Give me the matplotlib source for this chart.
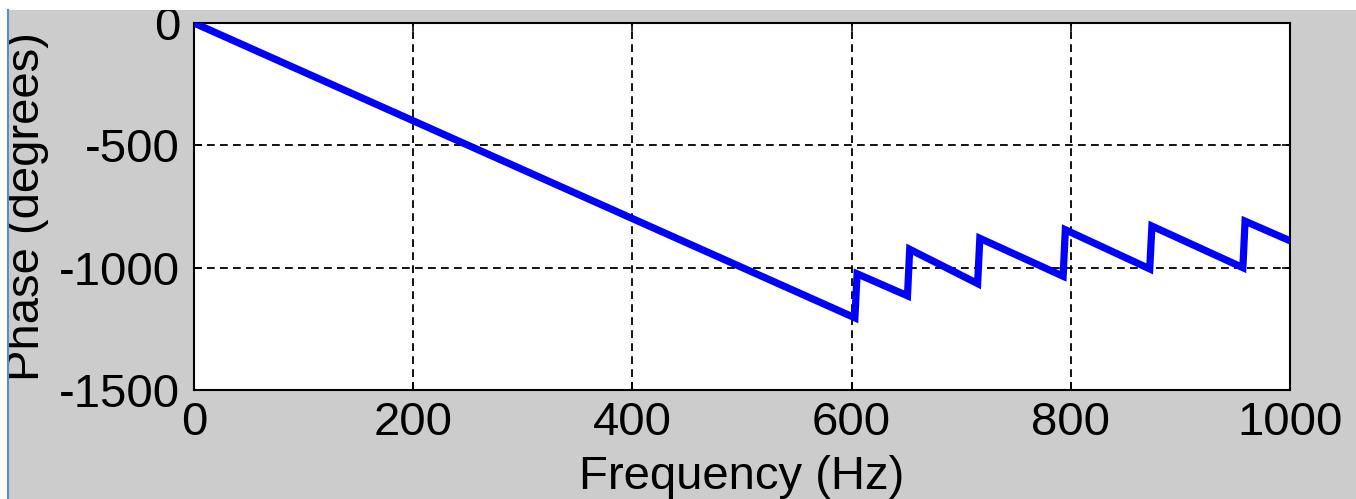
import matplotlib
matplotlib.use("Agg")
import matplotlib.pyplot as plt
from matplotlib.patches import Rectangle
from matplotlib.lines import Line2D

# sawtooth phase response: corner points of the unwrapped phase curve
freq_hz = [0, 603, 605, 651, 653, 715, 717, 793, 795, 872, 874, 957, 959, 1000]
phase_deg = [0, -1205, -1025, -1115, -925, -1065, -880, -1035, -845,
             -1005, -830, -1000, -810, -890]

x_ticks = [0, 200, 400, 600, 800, 1000]
y_ticks = [-1500, -1000, -500, 0]

plt.rcParams['font.family'] = ['Liberation Sans', 'DejaVu Sans']
plt.rcParams['axes.unicode_minus'] = False

W, H = 1356, 499
fig = plt.figure(figsize=(W / 100, H / 100), dpi=100, facecolor='#cccccc')
ax = fig.add_axes([194 / W, 1 - 390 / H, (1290 - 194) / W, (390 - 23) / H])
ax.set_facecolor('white')

ax.plot(freq_hz, phase_deg, color=(0, 0, 1), linewidth=5.2,
        solid_joinstyle='miter', zorder=3)

ax.set_xlim(0, 1000)
ax.set_ylim(-1500, 0)
ax.set_xticks(x_ticks)
ax.set_yticks(y_ticks)
ax.grid(True, color='black', linestyle=(0, (4.3, 2.9)), linewidth=1.3)
ax.set_axisbelow(True)

for s in ax.spines.values():
    s.set_linewidth(1.5)
    s.set_color('black')

ax.tick_params(direction='in', length=6, width=1.2, top=True, right=True,
               labelsize=34, pad=8)
ax.tick_params(axis='y', pad=10)
ax.set_xlabel('Frequency (Hz)', fontsize=34)
ax.set_ylabel('Phase (degrees)', fontsize=34)
ax.xaxis.set_label_coords(0.5, -0.237, transform=ax.transAxes)
ax.xaxis.label.set_va('center')
ax.yaxis.set_label_coords(-0.152, 0.5, transform=ax.transAxes)
ax.yaxis.label.set_va('center')

# window edge at the top and left of the figure
fig.patches.append(Rectangle((0, 1 - 10 / H), 1, 10 / H, transform=fig.transFigure,
                             facecolor='white', edgecolor='none', zorder=10))
fig.patches.append(Rectangle((0, 0), 7 / W, 1, transform=fig.transFigure,
                             facecolor='white', edgecolor='none', zorder=10))
fig.lines.append(Line2D([7.5 / W, 7.5 / W], [0, 1 - 10 / H], transform=fig.transFigure,
                        color='#5a8ad8', linewidth=1.5, zorder=11))

fig.savefig('out.png', dpi=100, facecolor=fig.get_facecolor())
